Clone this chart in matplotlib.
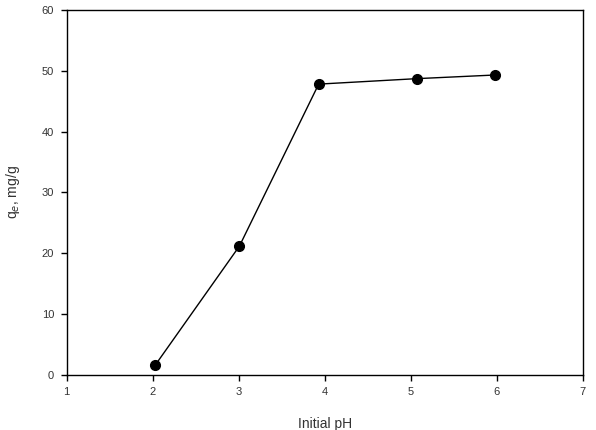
import matplotlib
matplotlib.use("Agg")
import matplotlib.pyplot as plt

plt.rcParams['font.family'] = ['Liberation Sans', 'DejaVu Sans']

ph = [2.03, 3.01, 3.93, 5.07, 5.98]
qe = [1.6, 21.2, 47.8, 48.7, 49.3]
xticks = [1, 2, 3, 4, 5, 6, 7]
yticks = [0, 10, 20, 30, 40, 50, 60]

fig = plt.figure(figsize=(5.96, 4.30), dpi=100)
ax = fig.add_axes([0.1116, 0.128, 0.978 - 0.1116, 0.977 - 0.128])
ax.plot(ph, qe, color='black', linewidth=1.0, marker='o', markersize=7,
        markerfacecolor='black', markeredgecolor='black')
ax.set_xlim(1, 7)
ax.set_ylim(0, 60)
ax.set_xticks(xticks)
ax.set_yticks(yticks)
ax.tick_params(direction='out', length=4, width=1, labelsize=8, colors='black',
               labelcolor='#333333', pad=5)
for s in ax.spines.values():
    s.set_linewidth(1.0)
ax.set_xlabel('Initial pH', fontsize=10, color='#333333', labelpad=14)
ax.set_ylabel('q$_e$, mg/g', fontsize=10, color='#333333', labelpad=14)
fig.savefig('out.png', dpi=100)
